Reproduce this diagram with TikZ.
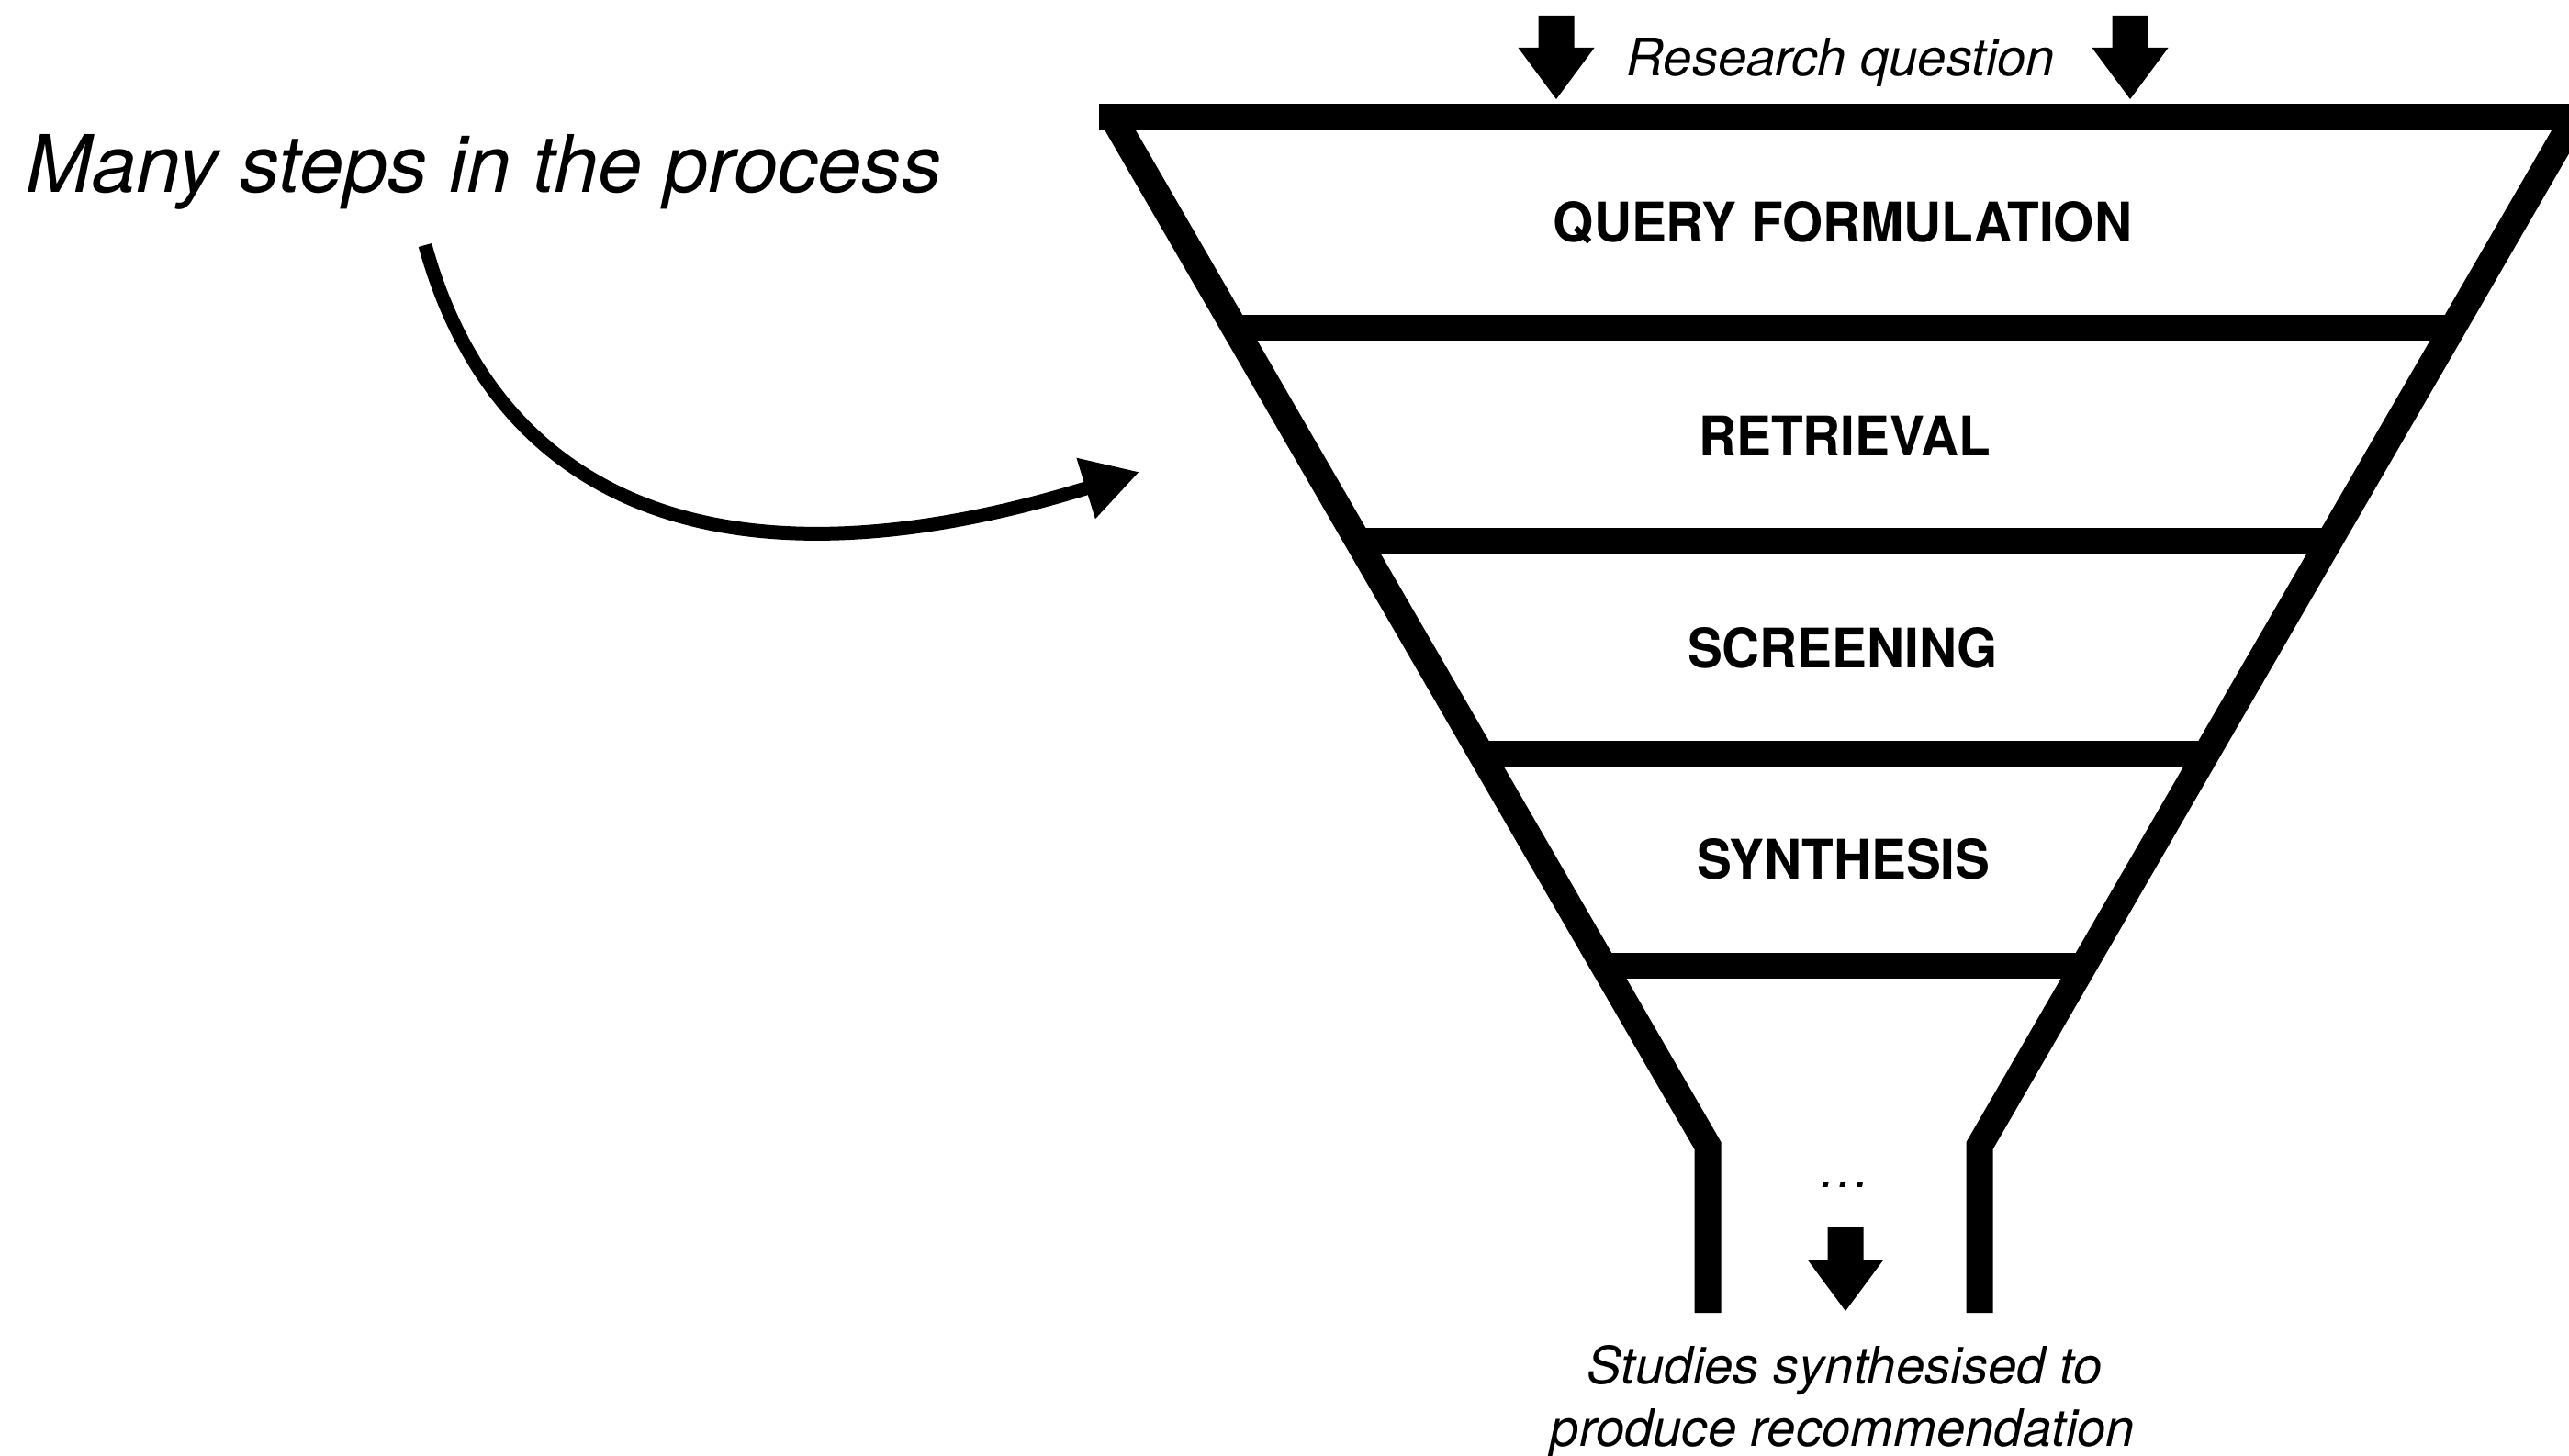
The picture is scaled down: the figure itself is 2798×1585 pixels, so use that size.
\documentclass[tikz,border=0pt]{standalone}
\usepackage{fontspec}
\setmainfont{TeX Gyre Heros}
\newfontfamily\stagefont[FakeStretch=0.955]{TeX Gyre Heros}
\usetikzlibrary{arrows.meta}
\begin{document}
\begin{tikzpicture}[x=0.01cm,y=-0.01cm,
  wall/.style={line width=0.29cm, line join=miter, line cap=butt},
  shelf/.style={line width=0.28cm, line cap=butt},
  stage/.style={anchor=base, inner sep=0pt, font=\stagefont\fontsize{16.9pt}{20pt}\selectfont\bfseries},
  note/.style={anchor=base, inner sep=0pt, font=\fontsize{16pt}{20pt}\selectfont\itshape},
  callout/.style={anchor=base west, inner sep=0pt, font=\fontsize{24.6pt}{29pt}\selectfont\itshape},
  pointer/.style={line width=0.15cm, -{Triangle[length=0.61cm,width=0.65cm]}},
  dnarrow/.pic={\fill (-19.5,0) -- (19.5,0) -- (19.5,35) -- (41.5,35) -- (0,91)
                 -- (-41.5,35) -- (-19.5,35) -- cycle;}]
\useasboundingbox (0,0) rectangle (2798,1585);
\clip (0,0) rectangle (2798,1585);

% funnel walls, narrowing into the outlet tube
\draw[wall] (1211.8,127.5) -- (1860,1248) -- (1860,1430);
\draw[wall] (2804.2,127.5) -- (2156,1248) -- (2156,1430);

% rim and the shelves between the stages
\draw[shelf, line width=0.29cm] (1197,127.5) -- (2830,127.5);
\foreach \y in {357,589,821,1052}
  \draw[shelf] ({1311.5+0.578*(\y-300)},\y) -- ({4016-1311.5-0.578*(\y-300)},\y);

% inflow and outflow arrows
\pic at (1695,17) {dnarrow};
\pic at (2320,17) {dnarrow};
\pic at (2010,1337) {dnarrow};

% texts
\node[note] (question) at (2005,83) {Research question};
\node[stage] (query) at (2007,263) {QUERY FORMULATION};
\node[stage] (retrieval) at (2009,496) {RETRIEVAL};
\node[stage] (screening) at (2007,727) {SCREENING};
\node[stage] (synthesis) at (2008,957) {SYNTHESIS};
\node[note] (more) at (2010,1293) {…};
\node[note] (outA) at (2009,1507) {Studies synthesised to};
\node[note] (outB) at (2007,1575) {produce recommendation};
\node[callout] (many) at (28,209) {Many steps in the process};

% curved pointer from the remark towards the funnel
\coordinate (from) at (463,267);
\coordinate (to) at (1241,514);
\draw[pointer] (from) .. controls (543,557) and (800,650) .. (to);
\end{tikzpicture}
\end{document}
